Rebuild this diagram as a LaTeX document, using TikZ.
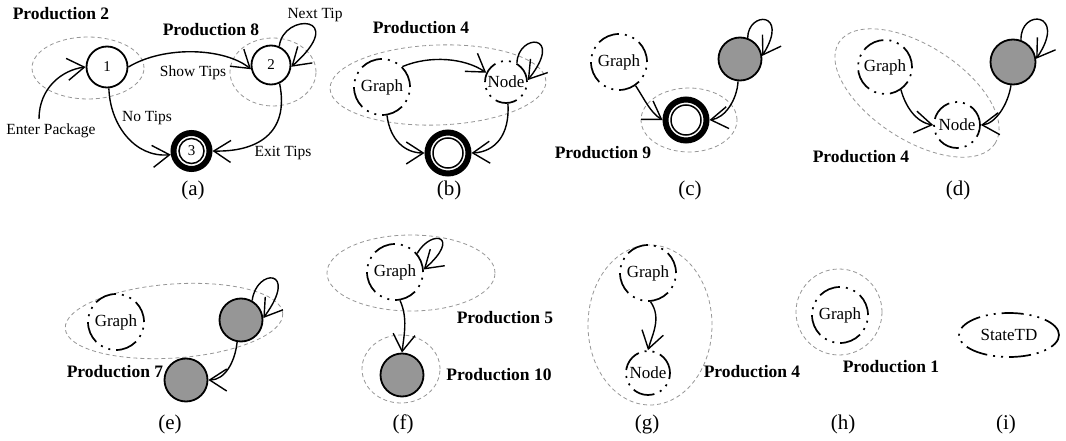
\documentclass[tikz,border=0pt]{standalone}
\usepackage{fontspec}
\setmainfont{Liberation Serif}
\usetikzlibrary{arrows.meta,shapes.geometric}
\definecolor{stgray}{RGB}{150,150,150}
\definecolor{grpgray}{RGB}{150,150,150}
\begin{document}
\begin{tikzpicture}[x=1pt,y=-1pt,
  >={Straight Barb[length=17pt,width=22pt,line width=1.4pt]},
  edge/.style={->,line width=1.4pt},
  st/.style={circle,draw,line width=1.8pt,inner sep=0pt,font=\fontsize{15}{15}\selectfont},
  ddd/.style={draw,line width=1.7pt,dash pattern=on 22pt off 6pt on 2pt off 6pt on 2pt off 6pt,inner sep=0pt,font=\fontsize{17}{17}\selectfont},
  gnode/.style={circle,ddd,minimum size=56pt},
  nnode/.style={circle,ddd,minimum size=44pt},
  grayst/.style={circle,draw,line width=1.8pt,fill=stgray,minimum size=43pt,inner sep=0pt},
  finalo/.style={circle,draw,line width=6pt,outer sep=3pt,inner sep=0pt},
  finali/.style={circle,draw,line width=1.5pt,inner sep=0pt,font=\fontsize{15}{15}\selectfont},
  grp/.style={draw=grpgray,line width=0.8pt,dash pattern=on 4pt off 3pt},
  prod/.style={font=\fontsize{17.5}{18}\selectfont\bfseries},
  lbl/.style={font=\fontsize{15.5}{16}\selectfont},
  captxt/.style={font=\fontsize{21}{22}\selectfont},
]
\useasboundingbox (0,0) rectangle (1066,441);
% ---------------- (a)
\draw[grp] (88,68) ellipse [x radius=56pt,y radius=31pt];
\draw[grp] (273,72) ellipse [x radius=43pt,y radius=34pt];
\node[st,minimum size=41pt] (a1) at (107,67) {1};
\node[st,minimum size=39pt] (a2) at (271,65) {2};
\node[finalo,minimum size=36pt] (a3) at (191.5,151) {};
\node[finali,minimum size=25pt] (a3i) at (a3) {3};
\node[lbl] (ept) at (51,131) {Enter Package};
\coordinate (eps) at (39,119);
\draw[edge] (eps) .. controls (39,88) and (62,70) .. (a1.west);
\draw[edge] (a1.east) .. controls (165,45) and (225,48) .. (a2.192);
\node[lbl] (lst) at (193,73) {Show Tips};
\draw[edge] (a1.-85) .. controls (110,125) and (135,158) .. (a3.190);
\node[lbl] (lnt) at (147,118) {No Tips};
\draw[edge] (a2.-65) .. controls (290,135) and (255,152) .. (a3.east);
\node[lbl] (let) at (283,153) {Exit Tips};
\draw[edge] (a2.66) .. controls (283,12) and (350,15) .. (a2.-5);
\node[lbl] (lnx) at (315,15) {Next Tip};
\node[prod] (p2) at (61,14) {Production 2};
\node[prod] (p8) at (211,30) {Production 8};
\node[captxt] (ca) at (193,190) {(a)};
% ---------------- (b)
\draw[grp,rotate around={2:(438,85)}] (438,85) ellipse [x radius=108pt,y radius=40pt];
\node[gnode] (bG) at (382,87) {Graph};
\node[nnode,minimum size=42pt] (bN) at (506,82) {Node};
\node[finalo,minimum size=41pt] (bF) at (448,153) {};
\node[finali,minimum size=30pt] (bFi) at (bF) {};
\draw[edge] (bG.45) .. controls (430,55) and (465,58) .. (bN.155);
\draw[edge] (bN.60) .. controls (518,33) and (565,33) .. (bN.5);
\draw[edge] (bG.-80) .. controls (390,140) and (405,153) .. (bF.west);
\draw[edge] (bN.-85) .. controls (510,135) and (495,152) .. (bF.east);
\node[prod] (p4b) at (421,28) {Production 4};
\node[captxt] (cb) at (449,190) {(b)};
% ---------------- (c)
\draw[grp] (689,120) ellipse [x radius=48pt,y radius=32pt];
\node[gnode] (cG) at (619,62) {Graph};
\node[grayst] (cS) at (740,59) {};
\node[finalo,minimum size=41pt] (cF) at (686,120) {};
\node[finali,minimum size=30pt] (cFi) at (cF) {};
\draw[edge] (cG.-55) .. controls (645,100) and (650,112) .. (cF.west);
\draw[edge] (cS.-95) .. controls (737,100) and (725,118) .. (cF.east);
\draw[edge] (cS.70) .. controls (748,11) and (790,11) .. (cS.8);
\node[prod] (p9) at (603,153) {Production 9};
\node[captxt] (cc) at (690,190) {(c)};
% ---------------- (d)
\draw[grp,rotate around={-33:(917,93)}] (917,93) ellipse [x radius=93pt,y radius=47pt];
\node[gnode,minimum size=54pt] (dG) at (885,67) {Graph};
\node[nnode,minimum size=46pt] (dN) at (957,125) {Node};
\node[grayst,minimum size=45pt] (dS) at (1013,62) {};
\draw[edge] (dG.-55) .. controls (905,105) and (915,122) .. (dN.west);
\draw[edge] (dS.-95) .. controls (1008,105) and (995,124) .. (dN.east);
\draw[edge] (dS.70) .. controls (1020,8) and (1068,12) .. (dS.8);
\node[prod] (p4d) at (861,157) {Production 4};
\node[captxt] (cd) at (958,190) {(d)};
% ---------------- (e)
\draw[grp,rotate around={4:(174,321)}] (174,321) ellipse [x radius=109pt,y radius=37pt];
\node[gnode] (eG) at (116,322) {Graph};
\node[grayst] (eS1) at (241,320) {};
\node[grayst] (eS2) at (186,380) {};
\draw[edge] (eS1.-100) .. controls (235,362) and (225,380) .. (eS2.east);
\draw[edge] (eS1.60) .. controls (256,268) and (300,268) .. (eS1.5);
\node[prod] (p7) at (115,372) {Production 7};
\node[captxt] (ce) at (170,424) {(e)};
% ---------------- (f)
\draw[grp] (411,273) ellipse [x radius=84pt,y radius=38pt];
\draw[grp] (401,369) ellipse [x radius=39pt,y radius=34pt];
\node[gnode] (fG) at (395,272) {Graph};
\node[grayst] (fS) at (402,375) {};
\draw[edge] (fG.-80) .. controls (408,318) and (404,335) .. (fS.north);
\draw[edge] (fG.40) .. controls (432,228) and (462,236) .. (fG.5);
\node[prod] (p5) at (505,318) {Production 5};
\node[prod] (p10) at (499,375) {Production 10};
\node[captxt] (cf) at (403,424) {(f)};
% ---------------- (g)
\draw[grp] (650,325) ellipse [x radius=62pt,y radius=80pt];
\node[gnode] (gG) at (648,273) {Graph};
\node[nnode] (gN) at (648,373) {Node};
\draw[edge] (gG.-85) .. controls (662,318) and (652,335) .. (gN.north);
\node[prod] (p4g) at (752,372) {Production 4};
\node[captxt] (cg) at (647,424) {(g)};
% ---------------- (h)
\draw[grp] (839,312) circle [radius=43pt];
\node[gnode] (hG) at (840,315) {Graph};
\node[prod] (p1) at (891,367) {Production 1};
\node[captxt] (ch) at (843,424) {(h)};
% ---------------- (i)
\node[ddd,ellipse,minimum width=100pt,minimum height=44pt] (iS) at (1009,335) {StateTD};
\node[captxt] (ci) at (1006,424) {(i)};
\end{tikzpicture}
\end{document}
